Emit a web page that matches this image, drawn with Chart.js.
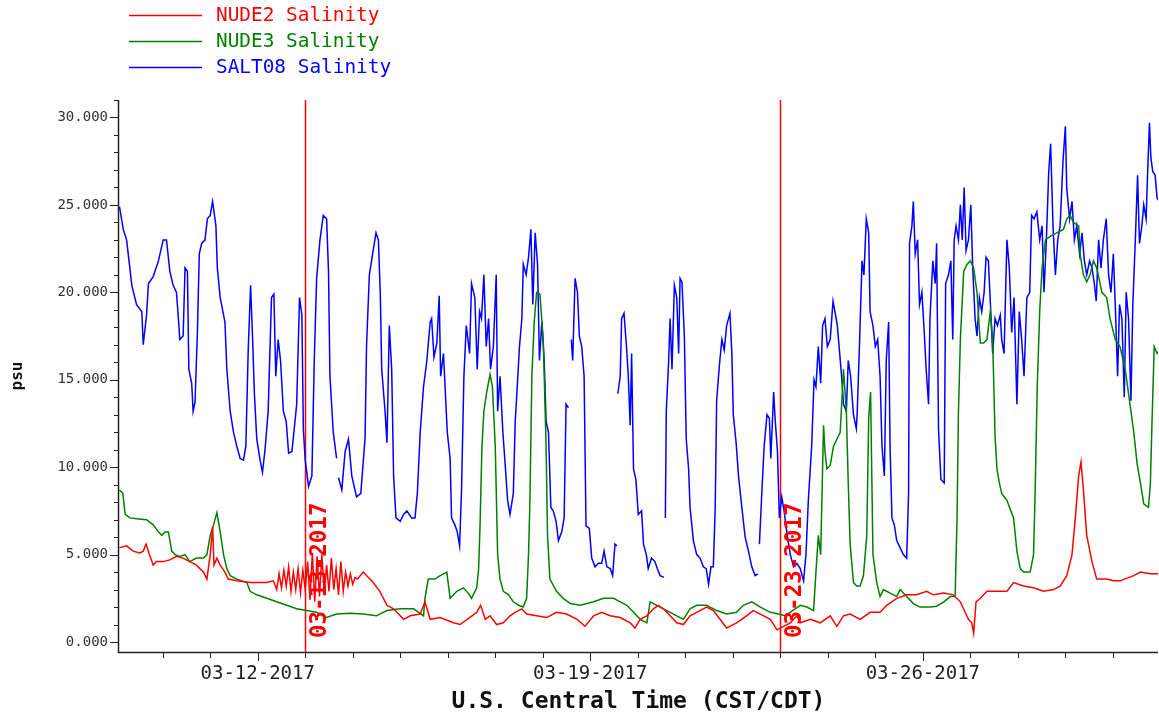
<!DOCTYPE html>
<html>
<head>
<meta charset="utf-8">
<script src="https://cdn.jsdelivr.net/npm/chart.js@4.4.1/dist/chart.umd.min.js"></script>
<style>
  html, body { margin: 0; padding: 0; background: #fff; }
</style>
</head>
<body>
<canvas id="chart" width="1159" height="716"></canvas>
<script>
// x values are day-of-March 2017 (12.5 = 03-12 12:00)
const nude2Days = [9.09, 9.24, 9.38, 9.52, 9.59, 9.65, 9.72, 9.80, 9.87, 10.01, 10.15, 10.29, 10.43, 10.57, 10.71, 10.86, 10.93, 11.00, 11.05, 11.08, 11.14, 11.21, 11.31, 11.38, 11.56, 11.84, 12.19, 12.33,
  12.40, 12.45, 12.50, 12.55, 12.60, 12.65, 12.70, 12.75, 12.80, 12.85, 12.90, 12.95, 13.00, 13.05, 13.10, 13.15, 13.20, 13.25, 13.30, 13.35, 13.40, 13.45, 13.50, 13.55, 13.60, 13.65, 13.70, 13.75, 13.80, 13.85, 13.90, 13.95, 14.00, 14.05, 14.10, 14.22,
  14.43, 14.57, 14.72, 14.86, 15.07, 15.21, 15.42, 15.52, 15.63, 15.84, 16.12, 16.26, 16.46,
  16.61, 16.69, 16.79, 16.89, 17.03, 17.17, 17.31, 17.42, 17.56, 17.66, 17.87, 18.08, 18.29, 18.50, 18.72, 18.89, 19.07, 19.24, 19.42, 19.63, 19.84, 19.94, 20.05, 20.19, 20.33, 20.43, 20.54, 20.68, 20.82, 20.96, 21.10, 21.31, 21.45, 21.59, 21.73, 21.87, 22.08, 22.29, 22.43, 22.58, 22.79, 22.93, 23.07, 23.21, 23.35,
  23.42, 23.63, 23.84, 24.05, 24.19, 24.33, 24.47, 24.68, 24.89, 25.10, 25.24, 25.45, 25.66, 25.87, 26.08, 26.22, 26.44, 26.64, 26.79, 26.89, 26.96, 27.03, 27.07, 27.12, 27.21, 27.35, 27.56, 27.77, 27.91, 28.12, 28.33, 28.54, 28.75, 28.89, 29.03, 29.14, 29.21, 29.28, 29.33, 29.38, 29.45, 29.56, 29.66, 29.87, 30.01, 30.15, 30.44, 30.58, 30.79, 30.98];
const nude2Psu = [5.4, 5.5, 5.2, 5.1, 5.2, 5.6, 5.0, 4.4, 4.6, 4.6, 4.7, 4.9, 4.8, 4.6, 4.4, 4.0, 3.6, 5.0, 6.6, 4.4, 4.8, 4.4, 4.0, 3.6, 3.5, 3.4, 3.4, 3.5,
  3.0, 3.9, 3.1, 4.1, 3.2, 4.3, 2.9, 4.0, 3.0, 4.2, 2.8, 4.1, 3.0, 4.6, 2.4, 5.1, 2.3, 4.9, 2.6, 5.0, 2.8, 4.4, 2.9, 4.8, 3.0, 4.2, 2.7, 4.6, 2.9, 4.0, 3.2, 3.9, 3.3, 3.7, 3.6, 4.0,
  3.4, 2.9, 2.1, 1.9, 1.3, 1.5, 1.6, 2.3, 1.3, 1.4, 1.1, 1.0, 1.4,
  1.7, 2.1, 1.3, 1.5, 1.0, 1.1, 1.5, 1.7, 1.9, 1.6, 1.5, 1.4, 1.7, 1.6, 1.3, 0.9, 1.5, 1.7, 1.5, 1.4, 1.1, 0.8, 1.3, 1.5, 1.9, 2.1, 1.9, 1.5, 1.1, 1.0, 1.5, 1.8, 2.0, 1.8, 1.3, 0.8, 1.1, 1.5, 1.8, 1.6, 1.3, 0.7, 0.9, 1.1, 1.5,
  1.1, 1.3, 1.1, 1.5, 0.9, 1.5, 1.6, 1.3, 1.7, 1.7, 2.1, 2.5, 2.7, 2.7, 2.9, 2.7, 2.8, 2.7, 2.3, 1.7, 1.3, 1.1, 0.5, 2.3, 2.5, 2.9, 2.9, 2.9, 3.4, 3.2, 3.1, 2.9, 3.0, 3.2, 3.8, 5.0, 7.1, 9.5, 10.3, 8.7, 6.1, 4.6, 3.6, 3.6, 3.5, 3.5, 3.8, 4.0, 3.9, 3.9];

const nude3Days = [9.09, 9.16, 9.21, 9.31, 9.45, 9.66, 9.80, 9.91, 9.98, 10.05, 10.12, 10.19, 10.26, 10.36, 10.47, 10.57, 10.71, 10.86, 10.93, 11.00, 11.07, 11.14, 11.21, 11.28, 11.35, 11.42, 11.56, 11.77, 11.84, 11.98, 12.19, 12.40, 12.61, 12.82, 13.03, 13.24, 13.45, 13.66, 13.94, 14.22, 14.50, 14.72, 15.00, 15.28, 15.49, 15.52, 15.59, 15.73, 15.84, 15.98, 16.05, 16.19, 16.33, 16.46,
  16.50, 16.61, 16.65, 16.68, 16.72, 16.76, 16.82, 16.89, 16.94, 17.00, 17.05, 17.10, 17.17, 17.28, 17.38, 17.49, 17.59, 17.66, 17.70, 17.73, 17.77, 17.82, 17.87, 17.94, 18.01, 18.07, 18.10, 18.15, 18.29, 18.43, 18.58, 18.79, 19.07, 19.28, 19.49, 19.63, 19.77, 19.91, 20.05, 20.19, 20.26, 20.40, 20.54, 20.68, 20.82, 20.96, 21.10, 21.24, 21.45, 21.66, 21.87, 22.08, 22.22, 22.40, 22.58, 22.79, 22.96, 23.10, 23.21, 23.31, 23.42,
  23.56, 23.70, 23.75, 23.80, 23.85, 23.91, 23.94, 23.98, 24.05, 24.12, 24.19, 24.26, 24.33, 24.39, 24.43, 24.47, 24.54, 24.61, 24.68, 24.75, 24.82, 24.86, 24.90, 24.95, 25.03, 25.10, 25.17, 25.31, 25.45, 25.52, 25.66, 25.80, 25.94, 26.15, 26.29, 26.44, 26.58, 26.68, 26.72, 26.75, 26.79, 26.86, 26.93, 27.00, 27.07, 27.14, 27.21, 27.28, 27.35, 27.42, 27.47, 27.52, 27.56, 27.61, 27.66, 27.77, 27.91, 27.98, 28.05, 28.12, 28.26, 28.33, 28.36, 28.41, 28.46, 28.51, 28.58, 28.68, 28.82, 28.96, 29.03, 29.10, 29.17, 29.28, 29.31, 29.38, 29.45, 29.52, 29.59, 29.66, 29.77, 29.87, 29.94, 30.05, 30.15, 30.26, 30.36, 30.44, 30.51, 30.58, 30.65, 30.75, 30.79, 30.82, 30.87, 30.93, 30.98];
const nude3Psu = [8.7, 8.5, 7.3, 7.1, 7.05, 7.0, 6.7, 6.3, 6.1, 6.3, 6.3, 5.2, 5.0, 4.9, 5.0, 4.6, 4.8, 4.8, 5.0, 6.1, 6.7, 7.4, 6.3, 5.0, 4.2, 3.8, 3.6, 3.4, 2.9, 2.7, 2.5, 2.3, 2.1, 1.9, 1.8, 1.7, 1.4, 1.6, 1.65, 1.6, 1.5, 1.8, 1.9, 1.9, 1.5, 2.5, 3.6, 3.6, 3.8, 4.0, 2.5, 2.9, 3.1, 2.7,
  2.5, 3.1, 4.2, 6.7, 11.2, 13.2, 14.3, 15.3, 14.6, 11.2, 5.0, 3.6, 2.9, 2.7, 2.3, 2.1, 2.0, 2.5, 5.0, 8.1, 15.2, 18.3, 20.0, 19.9, 17.3, 11.2, 6.1, 3.6, 2.9, 2.5, 2.2, 2.1, 2.3, 2.5, 2.5, 2.3, 2.1, 1.7, 1.3, 1.1, 2.3, 2.1, 1.9, 1.7, 1.5, 1.3, 1.9, 2.1, 2.1, 1.8, 1.6, 1.7, 2.1, 2.3, 2.0, 1.7, 1.6, 1.5, 1.7, 1.9, 2.1,
  2.0, 1.8, 4.0, 6.1, 5.0, 12.4, 10.9, 9.9, 10.1, 11.2, 11.6, 12.0, 15.6, 13.2, 9.1, 5.6, 3.4, 3.2, 3.2, 3.8, 6.1, 12.8, 14.3, 5.0, 3.4, 2.6, 3.0, 2.8, 2.6, 3.0, 2.6, 2.2, 2.0, 2.0, 2.05, 2.3, 2.6, 2.6, 7.1, 13.2, 17.3, 21.2, 21.6, 21.8, 21.4, 20.0, 17.1, 17.1, 17.3, 18.9, 17.3, 11.8, 9.9, 9.1, 8.5, 8.1, 7.1, 5.2, 4.2, 4.0, 4.0, 5.0, 8.1, 14.8, 18.9, 21.4, 23.0, 23.2, 23.4, 23.6, 24.2, 24.4, 24.0, 23.8, 22.2, 21.0, 20.6, 21.0, 21.8, 21.4, 20.0, 19.7, 18.5, 17.3, 16.9, 15.6, 13.6, 12.0, 10.2, 9.1, 7.9, 7.7, 9.1, 12.2, 16.9, 16.5, 16.7];

const salt08Days = [9.09, 9.17, 9.24, 9.35, 9.45, 9.56, 9.59, 9.66, 9.70, 9.80, 9.91, 10.01, 10.08, 10.15, 10.22, 10.29, 10.33, 10.36, 10.43, 10.47, 10.52, 10.55, 10.61, 10.64, 10.68, 10.73, 10.77, 10.82, 10.89, 10.94, 11.00, 11.05, 11.12, 11.15, 11.21, 11.31, 11.35, 11.42, 11.49, 11.56, 11.63, 11.70, 11.75, 11.80, 11.85, 11.89, 11.93, 11.98, 12.05, 12.10, 12.15, 12.22, 12.29, 12.34, 12.38, 12.43, 12.48, 12.54, 12.60, 12.65, 12.72, 12.75, 12.82, 12.88, 12.93, 12.96, 13.00, 13.07, 13.14, 13.19, 13.24, 13.31, 13.38, 13.45, 13.49, 13.52, 13.59, 13.66, 13.68, 13.70, 13.77, 13.84, 13.91, 13.98, 14.08, 14.17, 14.26, 14.29, 14.35, 14.43, 14.49, 14.54, 14.58, 14.61, 14.68, 14.72, 14.77, 14.82, 14.86, 14.91, 15.00, 15.07, 15.14, 15.24, 15.31, 15.36, 15.42, 15.49, 15.56, 15.63, 15.66, 15.71, 15.77, 15.82, 15.85, 15.91, 15.94, 15.99, 16.05, 16.08, 16.15, 16.20, 16.25, 16.29, 16.34, 16.39,
  16.46, 16.50, 16.57, 16.62, 16.67, 16.71, 16.76, 16.81, 16.86, 16.90, 16.96, 17.02, 17.05, 17.10, 17.16, 17.21, 17.26, 17.31, 17.38, 17.42, 17.45, 17.51, 17.56, 17.59, 17.65, 17.70, 17.75, 17.79, 17.84, 17.89, 17.93, 17.98, 18.03, 18.07, 18.12, 18.17, 18.22, 18.28, 18.33, 18.40, 18.45, 18.49, 18.54, 18.56, 18.60, 18.63, 18.68, 18.73, 18.77, 18.82, 18.87, 18.91, 18.98, 19.03, 19.10, 19.17, 19.24, 19.29, 19.35, 19.42, 19.47, 19.52, 19.56, 19.57, 19.58, 19.63, 19.66, 19.71, 19.77, 19.80, 19.84, 19.87, 19.91, 19.96, 20.01, 20.08, 20.12, 20.18, 20.22, 20.29, 20.36, 20.41, 20.47, 20.55, 20.56, 20.58, 20.60, 20.65, 20.68, 20.72, 20.77, 20.82, 20.86, 20.89, 20.93, 20.98, 21.02, 21.07, 21.10, 21.17, 21.24, 21.31, 21.38, 21.44, 21.49, 21.54, 21.59, 21.63, 21.66, 21.72, 21.77, 21.82, 21.87, 21.94, 21.98, 22.01, 22.07, 22.12, 22.19, 22.26, 22.33, 22.40, 22.47, 22.53, 22.54, 22.56, 22.61, 22.66, 22.72, 22.77, 22.80, 22.86, 22.89, 22.94, 22.98, 23.03, 23.08, 23.15, 23.21, 23.28, 23.35, 23.42,
  23.49, 23.54, 23.59, 23.66, 23.71, 23.75, 23.80, 23.85, 23.89, 23.94, 23.99, 24.05, 24.11, 24.15, 24.20, 24.25, 24.29, 24.33, 24.39, 24.43, 24.48, 24.54, 24.60, 24.62, 24.67, 24.72, 24.76, 24.81, 24.86, 24.89, 24.95, 25.00, 25.05, 25.10, 25.14, 25.19, 25.23, 25.28, 25.31, 25.35, 25.40, 25.45, 25.52, 25.59, 25.66, 25.70, 25.72, 25.77, 25.80, 25.84, 25.89, 25.93, 25.98, 26.03, 26.07, 26.12, 26.15, 26.21, 26.26, 26.29, 26.33, 26.38, 26.45, 26.48, 26.54, 26.59, 26.63, 26.66, 26.70, 26.75, 26.79, 26.83, 26.87, 26.91, 26.96, 27.01, 27.05, 27.10, 27.14, 27.19, 27.24, 27.29, 27.33, 27.38, 27.43, 27.47, 27.52, 27.57, 27.63, 27.66, 27.71, 27.77, 27.82, 27.87, 27.92, 27.98, 28.03, 28.08, 28.13, 28.19, 28.25, 28.29, 28.34, 28.40, 28.46, 28.51, 28.55, 28.60, 28.65, 28.69, 28.74, 28.79, 28.84, 28.89, 28.95, 29.00, 29.03, 29.09, 29.14, 29.19, 29.24, 29.30, 29.35, 29.40, 29.45, 29.51, 29.56, 29.61, 29.65, 29.70, 29.75, 29.80, 29.86, 29.91, 29.96, 30.01, 30.05, 30.10, 30.14, 30.19, 30.24, 30.28, 30.33, 30.38, 30.42, 30.47, 30.52, 30.56, 30.61, 30.65, 30.70, 30.73, 30.77, 30.80, 30.84, 30.89, 30.93, 30.98];
const salt08Psu = [24.9, 23.6, 23.0, 20.4, 19.3, 18.9, 17.0, 18.7, 20.5, 20.9, 21.8, 23.0, 23.0, 21.2, 20.4, 20.0, 18.5, 17.3, 17.5, 21.4, 21.2, 15.6, 14.8, 13.2, 13.7, 17.7, 22.2, 22.8, 23.0, 24.2, 24.4, 25.2, 23.8, 21.4, 19.7, 18.3, 15.6, 13.2, 12.0, 11.2, 10.5, 10.4, 11.2, 16.7, 20.4, 17.5, 14.2, 11.6, 10.4, 9.7, 10.9, 13.2, 19.7, 19.9, 15.2, 17.3, 16.1, 13.2, 12.6, 10.8, 10.9, 11.7, 13.6, 19.7, 18.7, 12.2, 10.4, 8.9, 9.5, 16.1, 20.8, 23.0, 24.4, 24.2, 21.2, 15.2, 12.0, 10.5, null, 9.4, 8.7, 10.9, 11.6, 9.5, 8.3, 8.5, 11.7, 16.9, 21.0, 22.4, 23.4, 23.0, 19.9, 15.6, 13.2, 11.4, 18.1, 15.6, 9.5, 7.1, 6.9, 7.3, 7.5, 7.1, 7.1, 8.5, 12.0, 14.6, 16.1, 18.3, 18.5, 16.3, 17.1, 19.8, 15.2, 16.5, 14.8, 12.0, 10.5, 7.1, 6.7, 6.3, 5.5, 8.7, 15.2, 18.1,
  16.5, 20.5, 19.7, 15.6, 18.9, 18.5, 21.0, 16.9, 18.5, 15.6, 16.9, 21.0, 13.2, 15.2, 12.0, 10.1, 8.1, 7.3, 8.5, 12.6, 14.0, 16.9, 18.5, 21.6, 21.0, 22.0, 23.6, 19.3, 23.4, 21.6, 16.1, 18.3, 16.1, 12.6, 12.0, 7.7, 7.5, 6.9, 5.8, 6.3, 7.1, 13.6, 13.4, null, 17.3, 16.1, 20.8, 20.0, 17.5, 16.9, 15.2, 6.65, 6.5, 4.8, 4.3, 4.5, 4.5, 5.2, 4.3, 4.2, 3.8, 5.6, 5.5, null, 14.2, 15.2, 18.5, 18.8, 16.6, 15.2, 12.4, 16.5, 9.9, 9.3, 7.3, 7.5, 5.6, 5.0, 4.2, 4.8, 4.6, 4.2, 3.8, 3.7, null, 7.1, 13.2, 16.1, 18.5, 15.6, 20.4, 19.7, 16.5, 20.8, 20.6, 17.5, 11.6, 9.9, 7.7, 5.8, 5.0, 4.8, 4.3, 4.2, 3.3, 4.3, 4.3, 7.7, 13.8, 15.9, 17.3, 16.7, 18.1, 18.8, 16.5, 13.0, 11.4, 9.5, 7.7, 6.0, 5.2, 4.3, 3.8, 3.9, null, 5.6, 8.5, 11.2, 13.0, 12.8, 10.5, 14.3, 12.8, 10.9, 7.1, 8.3, 7.5, 6.0, 5.0, 4.3, 4.5, 4.2,
  3.5, 5.0, 8.1, 11.2, 15.0, 14.6, 16.9, 14.8, 18.1, 18.5, 16.9, 17.3, 19.5, 18.9, 18.1, 16.5, 15.2, 13.6, 13.2, 16.1, 15.2, 13.0, 12.2, 13.2, 17.3, 21.8, 21.0, 24.2, 23.4, 18.9, 18.1, 16.9, 17.3, 15.2, 11.2, 9.5, 16.1, 18.3, 11.2, 7.1, 6.7, 5.8, 5.4, 5.0, 4.8, 8.5, 22.8, 23.8, 25.2, 22.2, 23.0, 19.3, 20.0, 17.7, 15.6, 13.6, 18.5, 21.8, 20.5, 22.8, 12.2, 9.3, 9.1, 20.5, 21.0, 21.8, 17.3, 23.0, 23.8, 23.0, 25.0, 23.0, 26.0, 22.4, 23.0, 25.0, 21.4, 18.5, 17.5, 19.7, 18.9, 20.0, 22.0, 21.8, 18.9, 16.5, 18.5, 18.1, 18.7, 17.3, 16.5, 23.0, 21.4, 17.7, 19.7, 13.6, 18.9, 17.3, 15.2, 19.7, 20.0, 24.4, 24.2, 24.6, 23.0, 23.8, 20.0, 23.0, 26.9, 28.5, 23.8, 21.0, 23.0, 23.8, 27.5, 29.5, 25.9, 24.2, 25.2, 23.0, 23.8, 22.2, 23.4, 21.8, 21.0, 21.8, 21.4, 20.5, 19.5, 23.0, 21.4, 23.0, 24.2, 21.0, 20.0, 22.2, 19.3, 15.2, 19.3, 18.5, 14.0, 20.0, 18.5, 13.8, 19.3, 22.8, 26.7, 22.8, 23.8, 25.0, 24.2, 26.7, 29.7, 27.7, 26.9, 26.7, 25.4, 25.2];

const seriesNames = ['NUDE2 Salinity', 'NUDE3 Salinity', 'SALT08 Salinity'];
const seriesColors = ['#ff0000', '#008000', '#0000ff'];

const dateTickDays = [12, 19, 26];
const dateTickLabels = ['03-12-2017', '03-19-2017', '03-26-2017'];
const psuTicks = [0, 5, 10, 15, 20, 25, 30];

const markerDays = [13, 23];
const markerLabels = ['03-13-2017', '03-23-2017'];

const MONO = '"DejaVu Sans Mono", monospace';

function pairs(days, vals) {
  return days.map((d, i) => ({ x: d, y: vals[i] }));
}

const axesPlugin = {
  id: 'axesPlugin',
  beforeDatasetsDraw(chart) {
    const { ctx, chartArea: a, scales: { x } } = chart;
    ctx.save();
    ctx.strokeStyle = '#ff0000';
    ctx.lineWidth = 1.5;
    markerDays.forEach(d => {
      const px = Math.round(x.getPixelForValue(d)) + 0.5;
      ctx.beginPath();
      ctx.moveTo(px, a.top);
      ctx.lineTo(px, a.bottom);
      ctx.stroke();
    });
    ctx.restore();
  },
  afterDraw(chart) {
    const { ctx, chartArea: a, scales: { x, y } } = chart;
    ctx.save();
    ctx.strokeStyle = '#222';
    ctx.lineWidth = 1.5;
    // axis lines
    ctx.beginPath();
    ctx.moveTo(a.left - 0.5, a.top);
    ctx.lineTo(a.left - 0.5, a.bottom + 0.5);
    ctx.lineTo(a.right, a.bottom + 0.5);
    ctx.stroke();
    ctx.lineWidth = 1;
    // y ticks, one per psu unit
    for (let v = 0; v <= Math.floor(y.max); v++) {
      const py = Math.round(y.getPixelForValue(v)) + 0.5;
      const len = v % 5 === 0 ? 9 : 5;
      ctx.beginPath();
      ctx.moveTo(a.left - len, py);
      ctx.lineTo(a.left, py);
      ctx.stroke();
    }
    // x ticks, one per day
    for (let d = Math.ceil(x.min); d <= Math.floor(x.max); d++) {
      const px = Math.round(x.getPixelForValue(d)) + 0.5;
      const len = dateTickDays.includes(d) ? 9 : 6;
      ctx.beginPath();
      ctx.moveTo(px, a.bottom);
      ctx.lineTo(px, a.bottom + len);
      ctx.stroke();
    }
    // marker labels
    ctx.fillStyle = '#ff0000';
    ctx.font = 'bold 22.5px ' + MONO;
    ctx.textAlign = 'left';
    ctx.textBaseline = 'middle';
    markerDays.forEach((d, i) => {
      const px = x.getPixelForValue(d);
      ctx.save();
      ctx.translate(px + 14.5, a.bottom - 14);
      ctx.rotate(-Math.PI / 2);
      ctx.fillText(markerLabels[i], 0, 0);
      ctx.restore();
    });
    // legend
    ctx.font = '19.4px ' + MONO;
    ctx.textBaseline = 'middle';
    chart.data.datasets.forEach((ds, i) => {
      const ly = 15 + i * 26;
      ctx.strokeStyle = ds.borderColor;
      ctx.lineWidth = 1.5;
      ctx.beginPath();
      ctx.moveTo(129, ly + 0.5);
      ctx.lineTo(202, ly + 0.5);
      ctx.stroke();
      ctx.fillStyle = ds.borderColor;
      ctx.fillText(ds.label, 216, ly + 1);
    });
    ctx.restore();
  }
};

const lineDs = (i, days, vals) => ({
  label: seriesNames[i],
  data: pairs(days, vals),
  borderColor: seriesColors[i],
  backgroundColor: seriesColors[i],
  borderWidth: 1.5,
  pointRadius: 0,
  tension: 0,
  spanGaps: false
});

new Chart(document.getElementById('chart'), {
  type: 'line',
  data: {
    datasets: [
      lineDs(0, nude2Days, nude2Psu),
      lineDs(1, nude3Days, nude3Psu),
      lineDs(2, salt08Days, salt08Psu)
    ]
  },
  options: {
    responsive: false,
    animation: false,
    devicePixelRatio: 1,
    layout: { padding: { top: 100, right: 1, left: 0, bottom: 0 } },
    plugins: { legend: { display: false }, tooltip: { enabled: false } },
    scales: {
      x: {
        type: 'linear',
        min: 9.08,
        max: 30.95,
        grid: { display: false, drawTicks: false },
        border: { display: false },
        afterFit(s) { s.height = 64; },
        afterBuildTicks(s) { s.ticks = dateTickDays.map(v => ({ value: v })); },
        ticks: {
          padding: 11,
          maxRotation: 0,
          autoSkip: false,
          color: '#222',
          font: { family: MONO, size: 19 },
          callback: v => dateTickLabels[dateTickDays.indexOf(v)]
        },
        title: {
          display: true,
          text: 'U.S. Central Time (CST/CDT)',
          color: '#111',
          font: { family: MONO, size: 23, weight: 'bold' },
          padding: { top: 0, bottom: 0 }
        }
      },
      y: {
        min: -0.57,
        max: 31.0,
        grid: { display: false, drawTicks: false },
        border: { display: false },
        afterFit(s) { s.width = 119; },
        afterBuildTicks(s) { s.ticks = psuTicks.map(v => ({ value: v })); },
        ticks: {
          padding: 11,
          color: '#333',
          font: { family: MONO, size: 14 },
          callback: v => v.toFixed(3)
        },
        title: {
          display: true,
          text: 'psu',
          color: '#111',
          font: { family: MONO, size: 16, weight: 'bold' },
          padding: { top: 8, bottom: 0 }
        }
      }
    }
  },
  plugins: [axesPlugin]
});
</script>
</body>
</html>
